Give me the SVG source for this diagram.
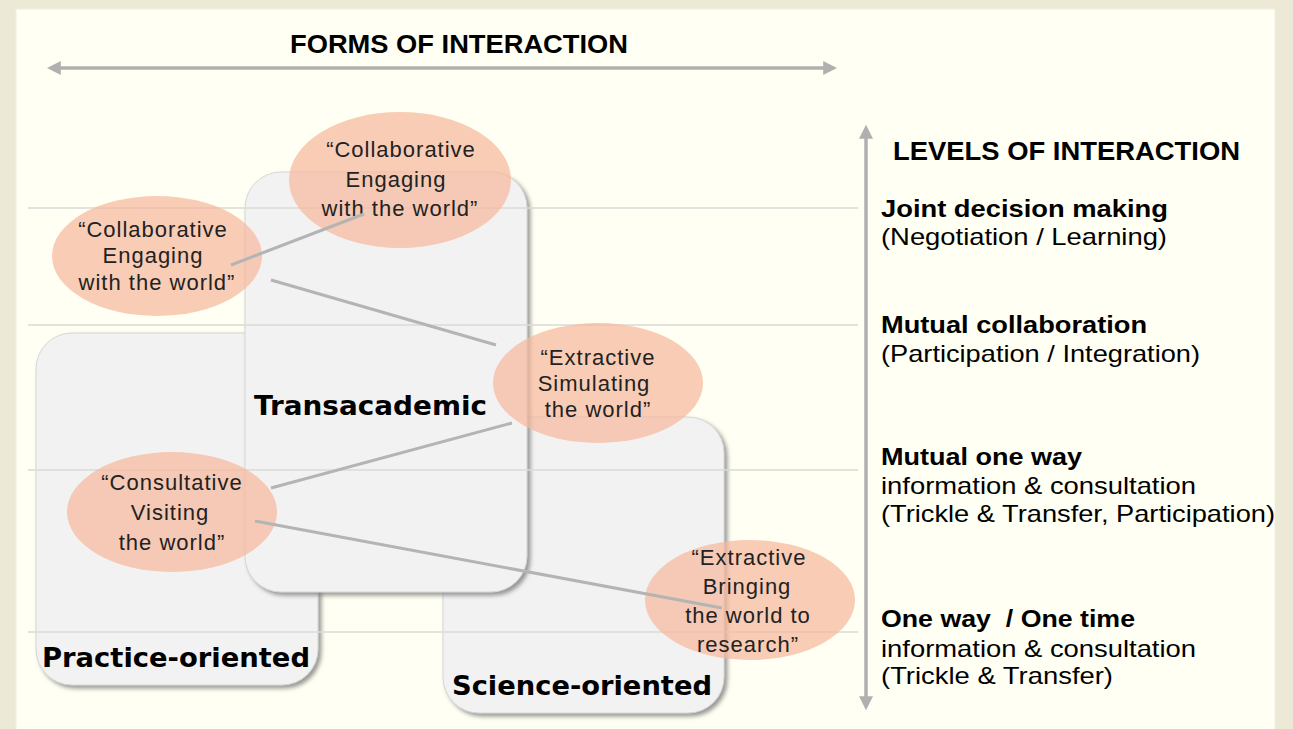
<svg xmlns="http://www.w3.org/2000/svg" width="1293" height="729" viewBox="0 0 1293 729">
<defs>
<style>
.title{font-family:"Liberation Sans",Arial,sans-serif;font-weight:bold;font-size:25px;fill:#000}
.lvb{font-family:"Liberation Sans",Arial,sans-serif;font-weight:bold;font-size:24px;fill:#000}
.lvr{font-family:"Liberation Sans",Arial,sans-serif;font-size:24px;fill:#000}
.et{font-family:"Liberation Sans",Arial,sans-serif;font-size:22px;fill:#222;letter-spacing:1px;text-anchor:middle}
.box{fill:#F2F2F2;stroke:#D6D6D6;stroke-width:1}
.bl{font-family:"DejaVu Sans",Verdana,sans-serif;font-weight:bold;font-size:26px;fill:#000}
.ell{fill:#F5B99C;fill-opacity:0.72}
.grid{stroke:#DADAD6;stroke-width:1.5}
.conn{stroke:#B4B4B4;stroke-width:3;fill:none}
.axis{stroke:#B0B0B0;stroke-width:3.5;fill:none}
</style>
<filter id="sh" x="-10%" y="-10%" width="125%" height="125%">
<feDropShadow dx="3" dy="3" stdDeviation="2" flood-color="#6E6E6E" flood-opacity="0.7"/>
</filter>
<marker id="ah" viewBox="0 0 10 10" refX="2" refY="5" markerWidth="4" markerHeight="4" orient="auto-start-reverse" markerUnits="strokeWidth">
<path d="M0,0 L10,5 L0,10 z" fill="#B0B0B0"/>
</marker>
</defs>
<rect x="0" y="0" width="1293" height="729" fill="#ECEAD7"/>
<rect x="16" y="9" width="1259" height="730" fill="#FFFFF3" stroke="#F3EEDC" stroke-width="1"/>

<g id="forms-title">
<text class="title" x="290" y="53" textLength="338" lengthAdjust="spacingAndGlyphs">FORMS OF INTERACTION</text>
</g>

<g id="boxes">
<g id="practice-oriented">
<rect class="box" x="36" y="333" width="282" height="352" rx="36" filter="url(#sh)"/>
</g>
<g id="science-oriented">
<rect class="box" x="443" y="417" width="281" height="296" rx="36" filter="url(#sh)"/>
</g>
<g id="transacademic">
<rect class="box" x="245" y="172" width="282" height="420" rx="36" filter="url(#sh)"/>
</g>
</g>

<g id="grid">
<line class="grid" x1="28" y1="208" x2="858" y2="208"/>
<line class="grid" x1="28" y1="325" x2="858" y2="325"/>
<line class="grid" x1="28" y1="470" x2="858" y2="470"/>
<line class="grid" x1="28" y1="632" x2="858" y2="632"/>
</g>

<g id="box-labels">
<text class="bl" x="254" y="415" textLength="233" lengthAdjust="spacingAndGlyphs">Transacademic</text>
<text class="bl" x="42" y="667" textLength="268" lengthAdjust="spacingAndGlyphs">Practice-oriented</text>
<text class="bl" x="452" y="695" textLength="260" lengthAdjust="spacingAndGlyphs">Science-oriented</text>
</g>

<g id="ellipse-collab-top">
<ellipse class="ell" cx="400" cy="180" rx="111" ry="68"/>
<text class="et" x="401" y="157">“Collaborative</text>
<text class="et" x="396" y="187">Engaging</text>
<text class="et" x="400" y="216">with the world”</text>
</g>
<g id="ellipse-collab-left">
<ellipse class="ell" cx="157" cy="256" rx="105" ry="60"/>
<text class="et" x="153" y="237">“Collaborative</text>
<text class="et" x="153" y="263">Engaging</text>
<text class="et" x="157" y="290">with the world”</text>
</g>
<g id="ellipse-extractive-sim">
<ellipse class="ell" cx="598" cy="383" rx="105" ry="60"/>
<text class="et" x="598" y="365">“Extractive</text>
<text class="et" x="594" y="391">Simulating</text>
<text class="et" x="598" y="417">the world”</text>
</g>
<g id="ellipse-consultative">
<ellipse class="ell" cx="172" cy="512" rx="105" ry="60"/>
<text class="et" x="172" y="490">“Consultative</text>
<text class="et" x="170" y="520">Visiting</text>
<text class="et" x="172" y="550">the world”</text>
</g>
<g id="ellipse-extractive-bring">
<ellipse class="ell" cx="750" cy="600" rx="105" ry="60"/>
<text class="et" x="749" y="565">“Extractive</text>
<text class="et" x="747" y="594">Bringing</text>
<text class="et" x="748" y="623">the world to</text>
<text class="et" x="748" y="652">research”</text>
</g>

<g id="connectors">
<line class="conn" x1="231" y1="265" x2="364" y2="214"/>
<line class="conn" x1="271" y1="280" x2="496" y2="345"/>
<line class="conn" x1="271" y1="488" x2="512" y2="423"/>
<line class="conn" x1="255" y1="521" x2="722" y2="608"/>
<line class="axis" x1="58" y1="68" x2="826" y2="68" marker-start="url(#ah)" marker-end="url(#ah)"/>
<line class="axis" x1="866" y1="136" x2="866" y2="699" marker-start="url(#ah)" marker-end="url(#ah)"/>
</g>

<g id="levels">
<text class="title" x="893" y="160" textLength="347" lengthAdjust="spacingAndGlyphs">LEVELS OF INTERACTION</text>
<text class="lvb" x="881" y="217" textLength="287" lengthAdjust="spacingAndGlyphs">Joint decision making</text>
<text class="lvr" x="881" y="245" textLength="286" lengthAdjust="spacingAndGlyphs">(Negotiation / Learning)</text>
<text class="lvb" x="881" y="333" textLength="266" lengthAdjust="spacingAndGlyphs">Mutual collaboration</text>
<text class="lvr" x="881" y="362" textLength="319" lengthAdjust="spacingAndGlyphs">(Participation / Integration)</text>
<text class="lvb" x="881" y="465" textLength="201" lengthAdjust="spacingAndGlyphs">Mutual one way</text>
<text class="lvr" x="881" y="494" textLength="315" lengthAdjust="spacingAndGlyphs">information &amp; consultation</text>
<text class="lvr" x="881" y="522" textLength="394" lengthAdjust="spacingAndGlyphs">(Trickle &amp; Transfer, Participation)</text>
<text class="lvb" x="881" y="627" textLength="254" lengthAdjust="spacingAndGlyphs" xml:space="preserve">One way  / One time</text>
<text class="lvr" x="881" y="657" textLength="315" lengthAdjust="spacingAndGlyphs">information &amp; consultation</text>
<text class="lvr" x="881" y="684" textLength="232" lengthAdjust="spacingAndGlyphs">(Trickle &amp; Transfer)</text>
</g>
</svg>
